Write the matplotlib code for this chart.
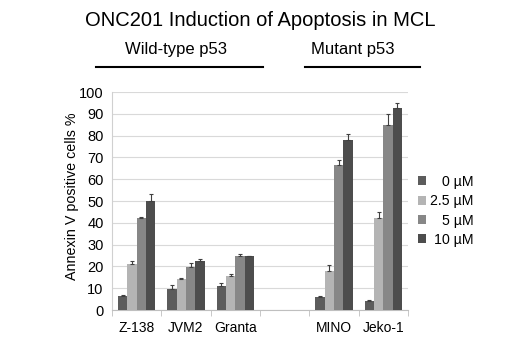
import numpy as np
import matplotlib
matplotlib.use('Agg')
import matplotlib.pyplot as plt
from matplotlib.lines import Line2D

plt.rcParams['font.family'] = ['Liberation Sans', 'DejaVu Sans']

# Data
cell_lines = ['Z-138', 'JVM2', 'Granta', '', 'MINO', 'Jeko-1']
doses = ['0 µM', '2.5 µM', '5 µM', '10 µM']
dose_0 = [6.4, 9.6, 11.2, np.nan, 5.8, 4.1]
dose_2_5 = [21.1, 14.0, 15.8, np.nan, 18.0, 42.4]
dose_5 = [42.3, 19.8, 24.6, np.nan, 66.7, 85.0]
dose_10 = [50.1, 22.6, 24.7, np.nan, 78.2, 92.7]
err_0 = [0.3, 1.8, 1.0, 0, 0.5, 0.3]
err_2_5 = [1.4, 0.8, 0.5, 0, 2.6, 2.7]
err_5 = [0.5, 1.9, 1.0, 0, 1.9, 4.7]
err_10 = [3.0, 1.0, 0.3, 0, 2.4, 2.3]

values = [dose_0, dose_2_5, dose_5, dose_10]
errors = [err_0, err_2_5, err_5, err_10]
colors = ['#5c5c5c', '#b4b4b4', '#878787', '#4d4d4d']

fig = plt.figure(figsize=(5.2, 3.37), dpi=100)
ax = fig.add_axes([0.2154, 0.0801, 0.5692, 0.6469])

x = np.arange(len(cell_lines))
width = 0.19
for i, (vals, errs, col) in enumerate(zip(values, errors, colors)):
    pos = x + (i - 1.5) * width
    ax.bar(pos, vals, width, color=col, label=doses[i], zorder=3)
    ax.errorbar(pos, vals, yerr=[np.zeros(len(errs)), errs], fmt='none',
                ecolor='#404040', elinewidth=0.8, capsize=1.5, capthick=0.8,
                zorder=4)

ax.set_ylim(0, 100)
ax.set_yticks(np.arange(0, 101, 10))
ax.set_xlim(-0.5, len(cell_lines) - 0.5)
ax.set_xticks(x)
ax.set_xticklabels(cell_lines, fontsize=10)
ax.set_xticks(np.arange(-0.5, len(cell_lines), 1.0), minor=True)
ax.tick_params(axis='x', which='major', length=0, pad=8)
ax.tick_params(axis='x', which='minor', length=4, color='#bfbfbf')
ax.tick_params(axis='y', length=0, labelsize=10.5, pad=6)
ax.grid(axis='y', color='#d9d9d9', linewidth=0.8, zorder=0)
for s in ['top', 'right']:
    ax.spines[s].set_visible(False)
ax.spines['left'].set_color('#d0d0d0')
ax.spines['bottom'].set_color('#bfbfbf')
ax.set_ylabel('Annexin V positive cells %', fontsize=10.3)
ax.yaxis.set_label_coords(-0.11, 0.523)

leg = ax.legend(loc='center left', bbox_to_anchor=(0.99, 0.455), frameon=False,
                fontsize=10.2, handlelength=0.6, handleheight=0.6,
                handletextpad=0.25, labelspacing=0.38)

# right-align the legend labels like the original (offsets in pixels)
fig.canvas.draw()
renderer = fig.canvas.get_renderer()
widths = [t.get_window_extent(renderer).width for t in leg.get_texts()]
for t, w in zip(leg.get_texts(), widths):
    t.set_position((max(widths) - w, 0))

fig.text(0.50, 0.94, 'ONC201 Induction of Apoptosis in MCL', ha='center',
         va='center', fontsize=14.5)
fig.text(0.338, 0.852, 'Wild-type p53', ha='center', va='center', fontsize=12)
fig.text(0.679, 0.852, 'Mutant p53', ha='center', va='center', fontsize=12)
fig.add_artist(Line2D([96 / 520, 263 / 520], [1 - 67 / 337, 1 - 67 / 337],
                      color='black', linewidth=1.5))
fig.add_artist(Line2D([305 / 520, 420 / 520], [1 - 67 / 337, 1 - 67 / 337],
                      color='black', linewidth=1.5))

fig.savefig('out.png', dpi=100)
